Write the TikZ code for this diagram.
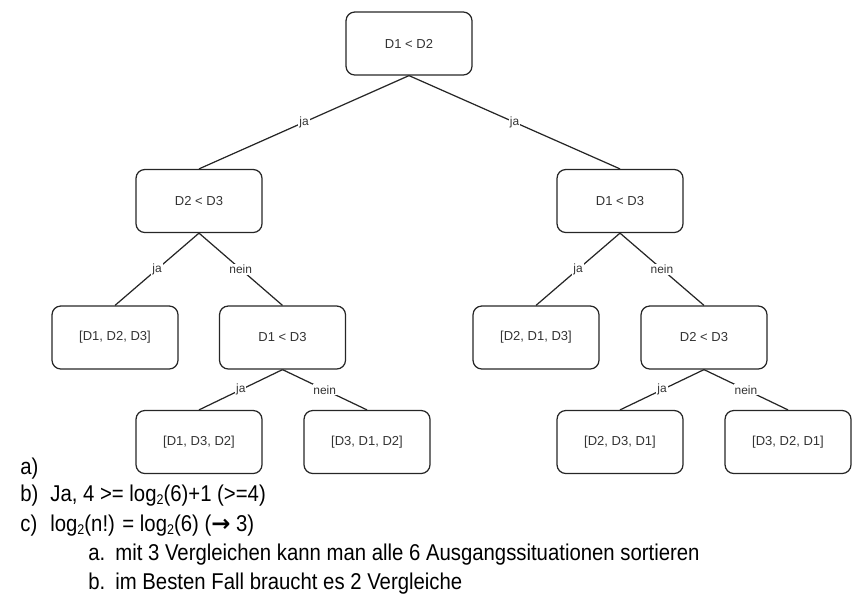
\documentclass[tikz,border=0pt]{standalone}
\usepackage{fontspec}
\setmainfont{Liberation Sans}
\newfontfamily\listfont[FakeStretch=0.89]{Liberation Sans}
\newfontfamily\arrowfont{DejaVu Sans}
\usetikzlibrary{positioning}

\newcommand{\sub}[1]{\raisebox{-.25ex}{\fontsize{8}{8}\selectfont #1}}

\begin{document}
\begin{tikzpicture}[x=0.02cm,y=-0.02cm,
    box/.style={draw=black!85, line width=.7pt, rounded corners=5pt,
        minimum width=2.52cm, minimum height=1.26cm, inner sep=0,
        font=\fontsize{7.4}{9}\selectfont, text=black!80},
    branch/.style={draw=black!85, line width=.7pt},
    answer/.style={fill=white, inner sep=.5pt,
        font=\fontsize{6.8}{8}\selectfont, text=black!80},
    item/.style={anchor=base west, inner sep=0, font=\listfont\fontsize{13}{15}\selectfont}]

\useasboundingbox (0,0) rectangle (866,606);

% tree
\node [box] (root) at (409,43.5) {D1 < D2};
\node [box] (d2d3) at (199,201) {D2 < D3};
\node [box] (d1d3r) at (620,201) {D1 < D3};

\node [box] (p123) at (115,337.5) {[D1, D2, D3]};
\node [box] (d1d3) at (282.5,337.5) {D1 < D3};
\node [box] (p213) at (536,337.5) {[D2, D1, D3]};
\node [box] (d2d3r) at (704,337.5) {D2 < D3};

\node [box] (p132) at (199,442) {[D1, D3, D2]};
\node [box] (p312) at (367,442) {[D3, D1, D2]};
\node [box] (p231) at (620,442) {[D2, D3, D1]};
\node [box] (p321) at (788,442) {[D3, D2, D1]};

\draw [branch] (root.south) -- node [answer] {ja} (d2d3.north);
\draw [branch] (root.south) -- node [answer] {ja} (d1d3r.north);

\draw [branch] (d2d3.south) -- node [answer] {ja} (p123.north);
\draw [branch] (d2d3.south) -- node [answer] {nein} (d1d3.north);
\draw [branch] (d1d3r.south) -- node [answer] {ja} (p213.north);
\draw [branch] (d1d3r.south) -- node [answer] {nein} (d2d3r.north);

\draw [branch] (d1d3.south) -- node [answer] {ja} (p132.north);
\draw [branch] (d1d3.south) -- node [answer] {nein} (p312.north);
\draw [branch] (d2d3r.south) -- node [answer] {ja} (p231.north);
\draw [branch] (d2d3r.south) -- node [answer] {nein} (p321.north);

% answers
\node [item] (la) at (20,474) {a)};
\node [item] (lb) at (20,501) {b)};
\node [item] (tb) at (50,501) {Ja, 4 >= log\sub{2}(6)+1 (>=4)};
\node [item] (lc) at (20,531) {c)};
\node [item] (tc) at (50,531) {log\sub{2}(n!) = log\sub{2}(6) ({\arrowfont\bfseries →} 3)};
\node [item] (lca) at (88,560) {a.};
\node [item] (tca) at (115,560) {mit 3 Vergleichen kann man alle 6 Ausgangssituationen sortieren};
\node [item] (lcb) at (88,589) {b.};
\node [item] (tcb) at (115,589) {im Besten Fall braucht es 2 Vergleiche};
\end{tikzpicture}
\end{document}
